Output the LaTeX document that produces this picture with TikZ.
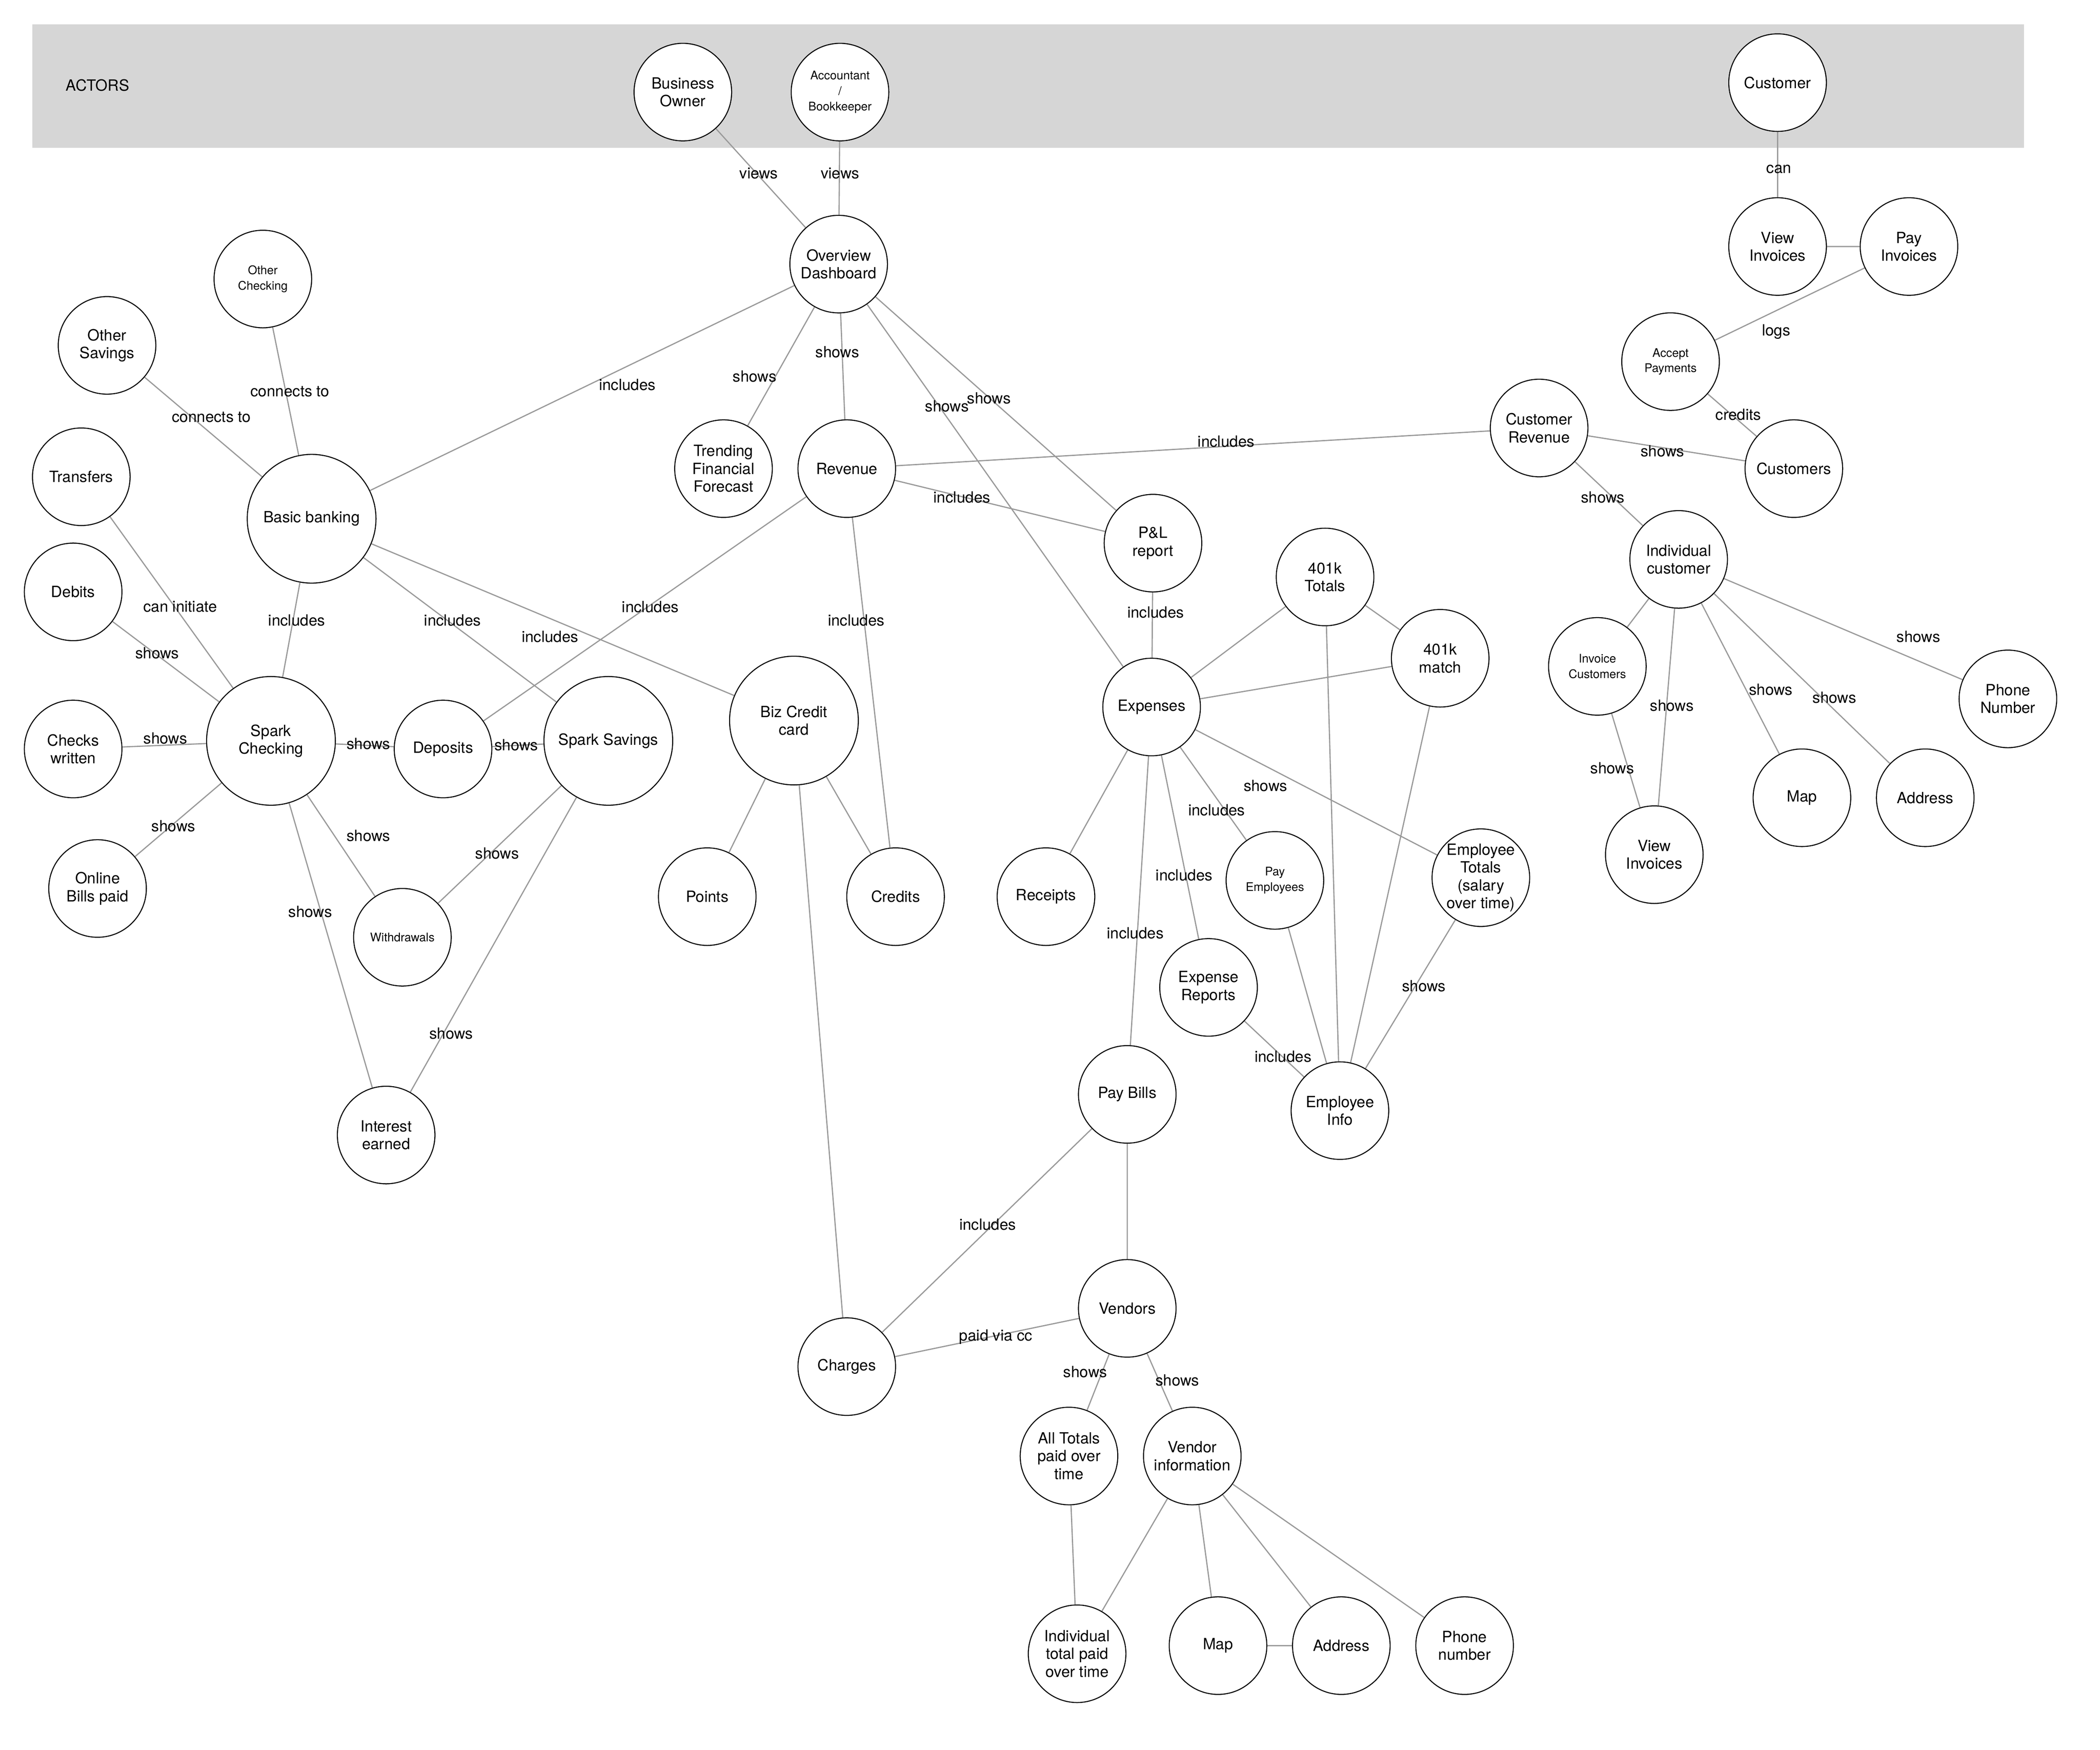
\documentclass[tikz,border=0pt]{standalone}
\usepackage{fontspec}
\setmainfont{TeX Gyre Heros}
\begin{document}
\begin{tikzpicture}[x=0.02cm, y=-0.02cm,
    ent/.style={circle, draw, fill=white, minimum size=1.44cm, inner sep=0pt, align=center, font=\fontsize{6.5}{7.5}\selectfont},
    bigent/.style={ent, minimum size=1.9cm},
    smallent/.style={ent, font=\fontsize{5}{6.5}\selectfont},
    lbl/.style={font=\fontsize{6.5}{7.5}\selectfont, inner sep=1pt},
    link/.style={draw=black!40, line width=0.5pt}]
        \useasboundingbox (0,0) rectangle (1550,1292);
        % Actors band
        \fill[black!16] (24,18) rectangle (1494,109);
        \node[lbl] (actors) at (72,63) {ACTORS};

        % Nodes
        \node[ent] (bo) at (504,68) {Business\\Owner};
        \node[smallent] (acc) at (620,68) {Accountant\\/\\Bookkeeper};
        \node[ent] (cust) at (1312,61) {Customer};
        \node[ent] (dash) at (619,195) {Overview\\Dashboard};
        \node[smallent] (othchk) at (194,206) {Other\\Checking};
        \node[ent] (othsav) at (79,255) {Other\\Savings};
        \node[ent] (transfers) at (60,352) {Transfers};
        \node[bigent] (basic) at (230,383) {Basic banking};
        \node[ent] (trend) at (534,346) {Trending\\Financial\\Forecast};
        \node[ent] (revenue) at (625,346) {Revenue};
        \node[ent] (custrev) at (1136,316) {Customer\\Revenue};
        \node[ent] (customers) at (1324,346) {Customers};
        \node[ent] (viewinv) at (1312,182) {View\\Invoices};
        \node[ent] (payinv) at (1409,182) {Pay\\Invoices};
        \node[smallent] (accept) at (1233,267) {Accept\\Payments};
        \node[ent] (pl) at (851,401) {P\&L\\report};
        \node[ent] (ktot) at (978,426) {401k\\Totals};
        \node[ent] (kmatch) at (1063,486) {401k\\match};
        \node[ent] (indiv) at (1239,413) {Individual\\customer};
        \node[ent] (debits) at (54,437) {Debits};
        \node[bigent] (spark) at (200,547) {Spark\\Checking};
        \node[ent] (checks) at (54,553) {Checks\\written};
        \node[ent] (deposits) at (327,553) {Deposits};
        \node[bigent] (savings) at (449,547) {Spark Savings};
        \node[bigent] (biz) at (586,532) {Biz Credit\\card};
        \node[ent] (expenses) at (850,522) {Expenses};
        \node[smallent] (invcust) at (1179,492) {Invoice\\Customers};
        \node[ent] (phone) at (1482,516) {Phone\\Number};
        \node[ent] (map) at (1330,589) {Map};
        \node[ent] (addr) at (1421,589) {Address};
        \node[ent] (viewinvb) at (1221,631) {View\\Invoices};
        \node[ent] (online) at (72,656) {Online\\Bills paid};
        \node[smallent] (withdrawals) at (297,692) {Withdrawals};
        \node[ent] (points) at (522,662) {Points};
        \node[ent] (credits) at (661,662) {Credits};
        \node[ent] (receipts) at (772,662) {Receipts};
        \node[smallent] (payemp) at (941,650) {Pay\\Employees};
        \node[ent] (emptot) at (1093,648) {Employee\\Totals\\(salary\\over time)};
        \node[ent] (expreports) at (892,729) {Expense\\Reports};
        \node[ent] (paybills) at (832,808) {Pay Bills};
        \node[ent] (interest) at (285,838) {Interest\\earned};
        \node[ent] (empinfo) at (989,820) {Employee\\Info};
        \node[ent] (vendors) at (832,966) {Vendors};
        \node[ent] (charges) at (625,1009) {Charges};
        \node[ent] (alltot) at (789,1075) {All Totals\\paid over\\time};
        \node[ent] (vinfo) at (880,1075) {Vendor\\information};
        \node[ent] (indtot) at (795,1221) {Individual\\total paid\\over time};
        \node[ent] (mapb) at (899,1215) {Map};
        \node[ent] (addrb) at (990,1215) {Address};
        \node[ent] (phoneb) at (1081,1215) {Phone\\number};

        % Connectors
        \begin{scope}[on background layer/.style={}]
        \end{scope}
        \path[link] (bo) -- (dash) (acc) -- (dash) (cust) -- (viewinv)
            (viewinv) -- (payinv) (payinv) -- (accept) (accept) -- (customers)
            (othchk) -- (basic) (othsav) -- (basic) (dash) -- (basic)
            (dash) -- (trend) (dash) -- (revenue) (dash) -- (expenses) (dash) -- (pl)
            (custrev) -- (revenue) (custrev) -- (customers) (custrev) -- (indiv)
            (revenue) -- (pl) (revenue) -- (deposits) (revenue) -- (credits)
            (pl) -- (expenses) (transfers) -- (spark) (basic) -- (spark)
            (basic) -- (savings) (basic) -- (biz) (debits) -- (spark)
            (checks) -- (spark) (spark) -- (deposits) (deposits) -- (savings)
            (spark) -- (online) (spark) -- (withdrawals) (savings) -- (withdrawals)
            (spark) -- (interest) (savings) -- (interest)
            (biz) -- (points) (biz) -- (credits) (biz) -- (charges)
            (expenses) -- (ktot) (expenses) -- (kmatch) (ktot) -- (kmatch)
            (ktot) -- (empinfo) (kmatch) -- (empinfo) (expenses) -- (receipts)
            (expenses) -- (payemp) (expenses) -- (emptot) (expenses) -- (expreports)
            (expenses) -- (paybills) (payemp) -- (empinfo) (emptot) -- (empinfo)
            (expreports) -- (empinfo) (indiv) -- (invcust) (indiv) -- (viewinvb)
            (invcust) -- (viewinvb) (indiv) -- (map) (indiv) -- (addr) (indiv) -- (phone)
            (paybills) -- (charges) (paybills) -- (vendors) (vendors) -- (charges)
            (vendors) -- (alltot) (vendors) -- (vinfo) (alltot) -- (indtot)
            (vinfo) -- (indtot) (vinfo) -- (mapb) (vinfo) -- (addrb) (vinfo) -- (phoneb)
            (mapb) -- (addrb);

        % redraw circles on top of lines
        \foreach \n in {bo,acc,cust,dash,othchk,othsav,transfers,basic,trend,revenue,custrev,customers,viewinv,payinv,accept,pl,ktot,kmatch,indiv,debits,spark,checks,deposits,savings,biz,expenses,invcust,phone,map,addr,viewinvb,online,withdrawals,points,credits,receipts,payemp,emptot,expreports,paybills,interest,empinfo,vendors,charges,alltot,vinfo,indtot,mapb,addrb,phoneb}
            \draw[fill=white] (\n.center) circle (0.72cm);
        \foreach \n in {basic,spark,savings,biz}
            \draw[fill=white] (\n.center) circle (0.95cm);

        % Labels
        \node[lbl] at (560,128) {views};
        \node[lbl] at (620,128) {views};
        \node[lbl] at (1313,125) {can};
        \node[lbl] at (1311,245) {logs};
        \node[lbl] at (1283,306) {credits};
        \node[lbl] at (214,289) {connects to};
        \node[lbl] at (156,308) {connects to};
        \node[lbl] at (463,284) {includes};
        \node[lbl] at (557,278) {shows};
        \node[lbl] at (618,260) {shows};
        \node[lbl] at (699,300) {shows};
        \node[lbl] at (730,294) {shows};
        \node[lbl] at (905,326) {includes};
        \node[lbl] at (1227,333) {shows};
        \node[lbl] at (1183,367) {shows};
        \node[lbl] at (710,367) {includes};
        \node[lbl] at (480,448) {includes};
        \node[lbl] at (632,458) {includes};
        \node[lbl] at (853,452) {includes};
        \node[lbl] at (133,448) {can initiate};
        \node[lbl] at (219,458) {includes};
        \node[lbl] at (334,458) {includes};
        \node[lbl] at (406,470) {includes};
        \node[lbl] at (116,482) {shows};
        \node[lbl] at (122,545) {shows};
        \node[lbl] at (272,549) {shows};
        \node[lbl] at (381,550) {shows};
        \node[lbl] at (128,610) {shows};
        \node[lbl] at (272,617) {shows};
        \node[lbl] at (367,630) {shows};
        \node[lbl] at (229,673) {shows};
        \node[lbl] at (333,763) {shows};
        \node[lbl] at (898,598) {includes};
        \node[lbl] at (934,580) {shows};
        \node[lbl] at (874,646) {includes};
        \node[lbl] at (838,689) {includes};
        \node[lbl] at (1051,728) {shows};
        \node[lbl] at (947,780) {includes};
        \node[lbl] at (1234,521) {shows};
        \node[lbl] at (1190,567) {shows};
        \node[lbl] at (1307,509) {shows};
        \node[lbl] at (1354,515) {shows};
        \node[lbl] at (1416,470) {shows};
        \node[lbl] at (729,904) {includes};
        \node[lbl] at (735,987) {paid via cc};
        \node[lbl] at (801,1013) {shows};
        \node[lbl] at (869,1019) {shows};

        % Node texts again above the refill
        \foreach \n/\t in {bo/{Business\\Owner},cust/Customer,dash/{Overview\\Dashboard},othsav/{Other\\Savings},transfers/Transfers,basic/{Basic banking},trend/{Trending\\Financial\\Forecast},revenue/Revenue,custrev/{Customer\\Revenue},customers/Customers,viewinv/{View\\Invoices},payinv/{Pay\\Invoices},pl/{P\&L\\report},ktot/{401k\\Totals},kmatch/{401k\\match},indiv/{Individual\\customer},debits/Debits,spark/{Spark\\Checking},checks/{Checks\\written},deposits/Deposits,savings/{Spark Savings},biz/{Biz Credit\\card},expenses/Expenses,phone/{Phone\\Number},map/Map,addr/Address,viewinvb/{View\\Invoices},online/{Online\\Bills paid},points/Points,credits/Credits,receipts/Receipts,emptot/{Employee\\Totals\\(salary\\over time)},expreports/{Expense\\Reports},paybills/{Pay Bills},interest/{Interest\\earned},empinfo/{Employee\\Info},vendors/Vendors,charges/Charges,alltot/{All Totals\\paid over\\time},vinfo/{Vendor\\information},indtot/{Individual\\total paid\\over time},mapb/Map,addrb/Address,phoneb/{Phone\\number}}
            \node[align=center, font=\fontsize{6.5}{7.5}\selectfont] at (\n.center) {\t};
        \foreach \n/\t in {acc/{Accountant\\/\\Bookkeeper},othchk/{Other\\Checking},accept/{Accept\\Payments},invcust/{Invoice\\Customers},withdrawals/Withdrawals,payemp/{Pay\\Employees}}
            \node[align=center, font=\fontsize{5}{6.5}\selectfont] at (\n.center) {\t};
\end{tikzpicture}
\end{document}
